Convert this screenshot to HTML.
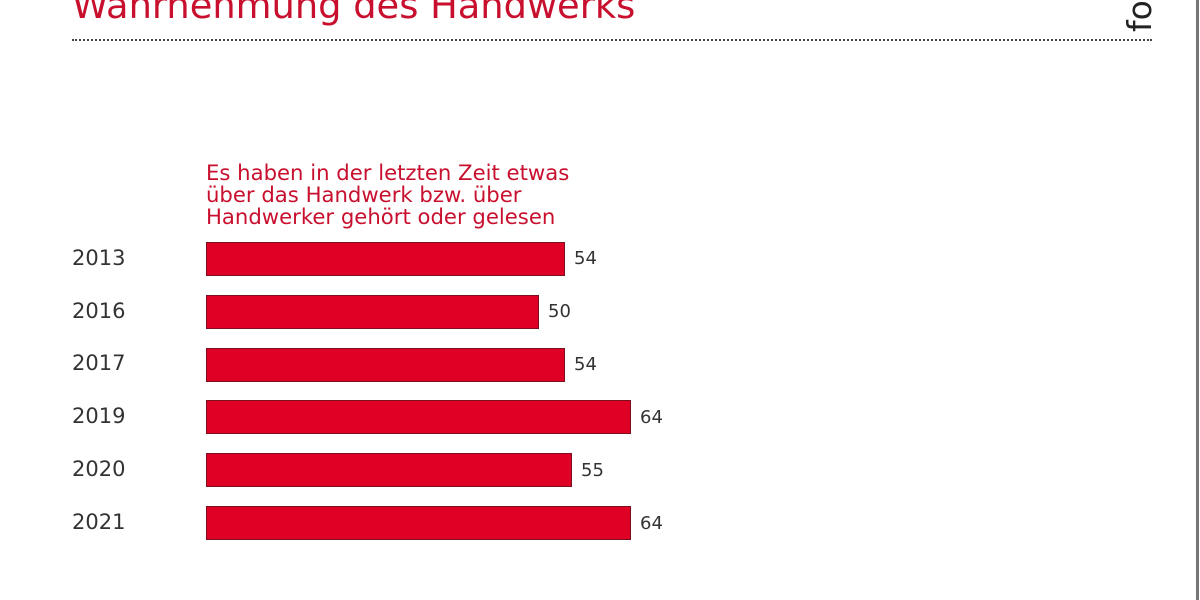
<!DOCTYPE html>
<html><head><meta charset="utf-8"><style>
body{margin:0;width:1200px;height:600px;background:#fff;overflow:hidden;position:relative;font-family:"DejaVu Sans","Liberation Sans",sans-serif}
.t{position:absolute;left:72px;top:-16px;font-size:36.8px;color:#c8102e;white-space:nowrap}
.dl{position:absolute;left:72px;top:39px;width:1080px;border-top:2px dotted #444}
.fo{position:absolute;left:1120px;top:32px;font-size:33px;color:#222;transform:rotate(-90deg);transform-origin:left top}
.vl{position:absolute;left:1196px;top:0;width:3px;height:600px;background:#777}
.sub{position:absolute;left:206px;top:162px;font-size:21.2px;line-height:22px;color:#c8102e;white-space:nowrap}
.y{position:absolute;left:72px;font-size:21px;color:#333}
.b{position:absolute;left:206px;height:34px;background:#e00025;box-sizing:border-box;border:1px solid #7a1020}
.v{position:absolute;font-size:18px;color:#333}
</style></head><body>
<div class="t">Wahrnehmung des Handwerks</div>
<div class="dl"></div>
<div class="fo">fo</div>
<div class="vl"></div>
<div class="sub">Es haben in der letzten Zeit etwas<br>über das Handwerk bzw. über<br>Handwerker gehört oder gelesen</div>

<div class="y" style="top:246px">2013</div><div class="b" style="top:242px;width:359px"></div><div class="v" style="left:574px;top:248px">54</div>
<div class="y" style="top:299px">2016</div><div class="b" style="top:295px;width:333px"></div><div class="v" style="left:548px;top:301px">50</div>
<div class="y" style="top:351px">2017</div><div class="b" style="top:348px;width:359px"></div><div class="v" style="left:574px;top:354px">54</div>
<div class="y" style="top:404px">2019</div><div class="b" style="top:400px;width:425px"></div><div class="v" style="left:640px;top:407px">64</div>
<div class="y" style="top:457px">2020</div><div class="b" style="top:453px;width:366px"></div><div class="v" style="left:581px;top:460px">55</div>
<div class="y" style="top:510px">2021</div><div class="b" style="top:506px;width:425px"></div><div class="v" style="left:640px;top:513px">64</div>
</body></html>
